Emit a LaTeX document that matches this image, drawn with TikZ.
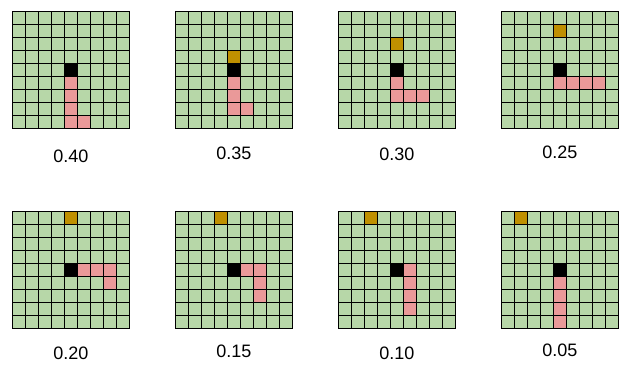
\documentclass[tikz,border=0pt]{standalone}
\usepackage{fontspec}
\setmainfont{Liberation Sans}
\usetikzlibrary{positioning}

\definecolor{cellgreen}{RGB}{183,215,168}
\definecolor{cellpink}{RGB}{234,153,153}
\definecolor{cellgold}{RGB}{191,144,0}

\begin{document}
\begin{tikzpicture}[
    x=1pt, y=-1pt,
    font=\fontsize{18}{20}\selectfont,
    cell free/.style={fill=cellgreen, draw=black, line width=1pt,
                      minimum size=13pt, inner sep=0pt},
    cell trail/.style={cell free, fill=cellpink},
    cell goal/.style={cell free, fill=cellgold},
    cell agent/.style={cell free, fill=black},
]

\useasboundingbox (0,0) rectangle (637,382);
\def\sz{13}  % cell pitch

% =====================================================================
%  GRIDS — 9x9 cells per panel, agent in the middle, value below
% =====================================================================
\foreach \p/\px/\py/\val/\ly in {1/12.3/11.3/0.40/156, 2/175.3/11.3/0.35/153,
                                  3/338.3/11.3/0.30/154, 4/501.3/11.3/0.25/152,
                                  5/12.3/211.3/0.20/353, 6/175.3/211.3/0.15/351,
                                  7/338.3/211.3/0.10/353, 8/501.3/211.3/0.05/350} {
    \begin{scope}[shift={(\px,\py)}]
        \foreach \r in {0,...,8} {
            \foreach \c in {0,...,8} {
                \node[cell free] (P\p c\c r\r) at ({(\c+0.5)*\sz}, {(\r+0.5)*\sz}) {};
            }
        }
        \node[cell agent] (P\p agent) at (P\p c4r4) {};
    \end{scope}
    % --- value label ---
    \node (P\p val) at ({\px+4.5*\sz}, \ly) {\val};
}

% --- trail cells (panel/col/row) ---
\foreach \p/\c/\r in {1/4/5, 1/4/6, 1/4/7, 1/4/8, 1/5/8,
                      2/4/5, 2/4/6, 2/4/7, 2/5/7,
                      3/4/5, 3/4/6, 3/5/6, 3/6/6,
                      4/4/5, 4/5/5, 4/6/5, 4/7/5,
                      5/5/4, 5/6/4, 5/7/4, 5/7/5,
                      6/5/4, 6/6/4, 6/6/5, 6/6/6,
                      7/5/4, 7/5/5, 7/5/6, 7/5/7,
                      8/4/5, 8/4/6, 8/4/7, 8/4/8} {
    \node[cell trail] (P\p trail\c\r) at (P\p c\c r\r) {};
}

% --- goal cells (panel/col/row) ---
\foreach \p/\c/\r in {2/4/3, 3/4/2, 4/4/1, 5/4/0, 6/3/0, 7/2/0, 8/1/0} {
    \node[cell goal] (P\p goal) at (P\p c\c r\r) {};
}

\end{tikzpicture}
\end{document}
